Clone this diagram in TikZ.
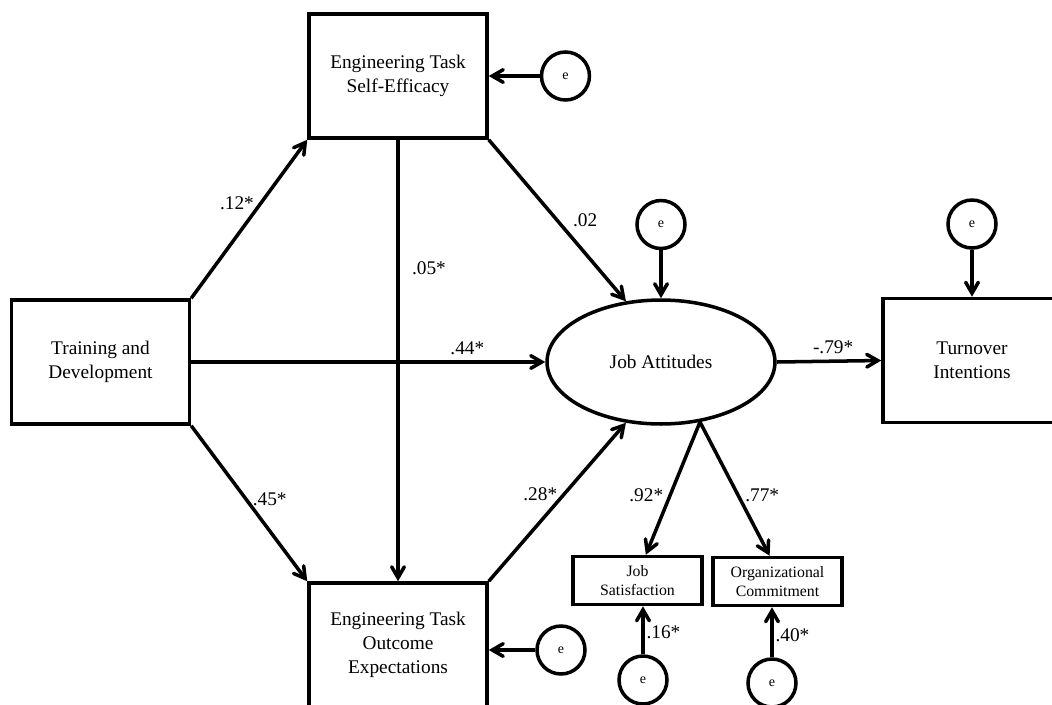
\documentclass[tikz,border=0pt]{standalone}
\usepackage{fontspec}
\setmainfont{Liberation Serif}
\usetikzlibrary{shapes.geometric}
\usetikzlibrary{arrows}
\usetikzlibrary{positioning}
\tikzstyle{effect} = [->, >=angle 60]
\tikzstyle{weight} = [font=\fontsize{11}{13}\selectfont, inner sep=3pt]

\begin{document}
\begin{tikzpicture}[x=0.02cm, y=-0.02cm, line width=2pt,
      main node/.style={draw, rectangle, align=center, minimum width=3.56cm, minimum height=2.48cm, font=\fontsize{11}{13.7}\selectfont},
      small node/.style={draw, rectangle, align=center, minimum width=2.58cm, minimum height=0.96cm, inner sep=1pt, font=\fontsize{9}{11}\selectfont},
      error node/.style={draw, circle, minimum size=0.96cm, inner sep=0pt, font=\fontsize{8}{9}\selectfont}]

      \path[use as bounding box, clip] (0,0) rectangle (1052,704);

      \node[main node] (SE) at (398,76) {Engineering Task\\Self-Efficacy};
      \node[main node] (TD) at (100.5,362) {Training and\\Development};
      \node[main node] (OE) at (398,645) {Engineering Task\\Outcome\\Expectations};
      \node[main node] (TI) at (972,360.5) {Turnover\\Intentions};
      \node[draw, ellipse, minimum width=4.56cm, minimum height=2.48cm, font=\fontsize{11}{13.7}\selectfont] (JA) at (661,362) {Job Attitudes};
      \node[small node] (JS) at (637.5,580.5) {Job\\Satisfaction};
      \node[small node] (OC) at (777.5,581.5) {Organizational\\Commitment};

      % error terms
      \node[error node] (eSE) [right=1.02cm of SE] {e};
      \node[error node] (eOE) at (561,650) {e};
      \node[error node] (eJA) [above=0.96cm of JA] {e};
      \node[error node] (eTI) [above=0.94cm of TI] {e};
      \node[error node] (eJS) at (643,680) {e};
      \node[error node] (eOC) at (772,683) {e};

      \path[effect]
      (TD.north east) edge node[weight, pos=0.6, left] {.12*} (SE.south west)
      (TD.east) edge node[weight, pos=0.78, above] {.44*} (JA.west)
      (TD.south east) edge node[weight, pos=0.47, right] {.45*} (OE.north west)
      (SE.south) edge node[weight, pos=0.29, right, xshift=4pt] {.05*} (OE.north)
      (SE.south east) edge node[weight, pos=0.5, right, xshift=5pt] {.02} (JA.120)
      (OE.north east) edge node[weight, pos=0.55, left] {.28*} (JA.240)
      (JA.east) edge node[weight, pos=0.54, above] {-.79*} (TI.west)
      (JA.303) edge node[weight, pos=0.55, left] {.92*} (JS.72)
      (JA.303) edge node[weight, pos=0.55, right] {.77*} (OC.107);

      \draw[effect] (eSE) -- (eSE -| SE.east);
      \draw[effect] (eOE) -- (eOE -| OE.east);
      \draw[effect] (eJA) -- (JA);
      \draw[effect] (eTI) -- (TI);
      \path[effect]
      (eJS) edge node[weight, pos=0.45, right, inner sep=1pt] {.16*} (eJS |- JS.south)
      (eOC) edge node[weight, pos=0.45, right, inner sep=1pt] {.40*} (eOC |- OC.south);
    \end{tikzpicture}
\end{document}
